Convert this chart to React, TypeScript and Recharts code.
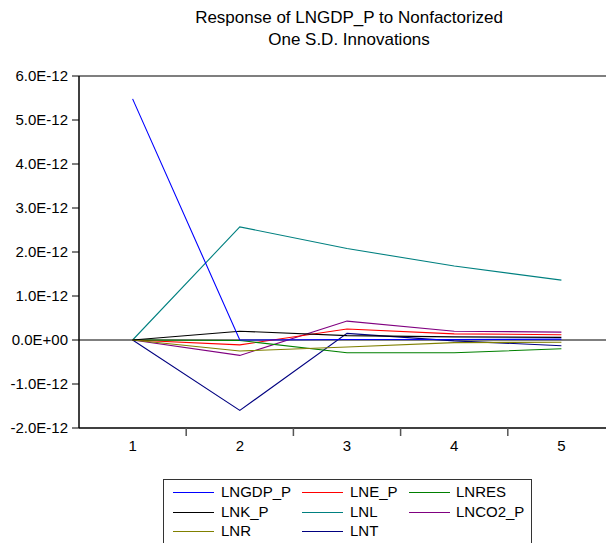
import React from 'react';
import { LineChart, Line, XAxis, YAxis, CartesianGrid, Legend } from 'recharts';

const PERIODS = [1, 2, 3, 4, 5];
const Y_TICKS = [-2e-12, -1e-12, 0, 1e-12, 2e-12, 3e-12, 4e-12, 5e-12, 6e-12];
const X_DIVIDERS = [1.5, 2.5, 3.5, 4.5];
const FRAME_LINES = [0, 6e-12];

const LNGDP_P = [5.48e-12, 0.0, 0.01e-12, 0.01e-12, 0.02e-12];
const LNE_P = [0, -0.11e-12, 0.25e-12, 0.14e-12, 0.12e-12];
const LNRES = [0, -0.01e-12, -0.29e-12, -0.29e-12, -0.2e-12];
const LNK_P = [0, 0.2e-12, 0.1e-12, 0.07e-12, 0.06e-12];
const LNL = [0, 2.57e-12, 2.08e-12, 1.68e-12, 1.36e-12];
const LNCO2_P = [0, -0.35e-12, 0.43e-12, 0.2e-12, 0.18e-12];
const LNR = [0, -0.25e-12, -0.16e-12, -0.06e-12, -0.05e-12];
const LNT = [0, -1.6e-12, 0.15e-12, -0.02e-12, -0.13e-12];

const SERIES = [
  { name: 'LNGDP_P', values: LNGDP_P, color: '#0000FF' },
  { name: 'LNE_P', values: LNE_P, color: '#FF0000' },
  { name: 'LNRES', values: LNRES, color: '#008000' },
  { name: 'LNK_P', values: LNK_P, color: '#000000' },
  { name: 'LNL', values: LNL, color: '#008080' },
  { name: 'LNCO2_P', values: LNCO2_P, color: '#800080' },
  { name: 'LNR', values: LNR, color: '#808000' },
  { name: 'LNT', values: LNT, color: '#000080' },
];

// draw order: later series on top (LNGDP_P last so it covers the zero line)
const DRAW_ORDER = ['LNL', 'LNT', 'LNCO2_P', 'LNE_P', 'LNRES', 'LNR', 'LNK_P', 'LNGDP_P'];

const data = PERIODS.map((p, i) => {
  const row: Record<string, number> = { period: p };
  SERIES.forEach((s) => {
    row[s.name] = s.values[i];
  });
  return row;
});

const FONT = '"Liberation Sans", Arial, sans-serif';

const fmtY = (v: number) => {
  if (Math.abs(v) < 1e-20) return '0.0E+00';
  return (v / 1e-12).toFixed(1) + 'E-12';
};

const COL_LINE = [9, 138, 245];
const COL_TEXT = [57, 186, 292];
const ROW_Y = [12, 32, 51];

const LegendContent = () => (
  <div
    style={{
      position: 'relative',
      width: 369,
      height: 70,
      border: '1px solid #333',
      boxSizing: 'border-box',
      background: '#fff',
      fontFamily: FONT,
      fontSize: 15,
      color: '#000',
    }}
  >
    {SERIES.map((s, i) => {
      const col = i % 3;
      const row = Math.floor(i / 3);
      return (
        <React.Fragment key={s.name}>
          <div
            style={{
              position: 'absolute',
              left: COL_LINE[col],
              top: ROW_Y[row],
              width: 41,
              height: 0,
              borderTop: `1.5px solid ${s.color}`,
            }}
          />
          <div
            style={{
              position: 'absolute',
              left: COL_TEXT[col],
              top: ROW_Y[row] - 10,
              lineHeight: '20px',
              whiteSpace: 'nowrap',
            }}
          >
            {s.name}
          </div>
        </React.Fragment>
      );
    })}
  </div>
);

export default function App() {
  const seriesByName: Record<string, (typeof SERIES)[number]> = {};
  SERIES.forEach((s) => (seriesByName[s.name] = s));
  return (
    <div
      style={{
        position: 'fixed',
        left: 0,
        top: 0,
        width: 606,
        height: 543,
        overflow: 'hidden',
        background: '#fff',
      }}
    >
      <div
        style={{
          position: 'absolute',
          left: 249,
          top: 7,
          width: 200,
          textAlign: 'center',
          fontFamily: FONT,
          fontSize: 17,
          lineHeight: '21.5px',
          color: '#000',
          whiteSpace: 'nowrap',
          display: 'flex',
          flexDirection: 'column',
          alignItems: 'center',
        }}
      >
        <div>Response of LNGDP_P to Nonfactorized</div>
        <div>One S.D. Innovations</div>
      </div>
      <div style={{ position: 'absolute', left: 0, top: 0 }}>
        <LineChart
          width={620}
          height={543}
          data={data}
          margin={{ top: 76, right: 5, left: 0, bottom: 0 }}
        >
          <CartesianGrid
            xAxisId="lab"
            vertical={false}
            horizontal={true}
            horizontalValues={FRAME_LINES}
            stroke="#000"
            strokeWidth={1.2}
          />
          <XAxis
            xAxisId="div"
            dataKey="period"
            type="number"
            domain={[0.5, 5.5]}
            ticks={X_DIVIDERS}
            height={1}
            tickSize={8}
            tickFormatter={() => ''}
            axisLine={{ stroke: '#000', strokeWidth: 1.5 }}
            tickLine={{ stroke: '#555', strokeWidth: 1.5 }}
          />
          <XAxis
            xAxisId="lab"
            dataKey="period"
            type="number"
            domain={[0.5, 5.5]}
            ticks={PERIODS}
            height={114}
            tickSize={7}
            tickMargin={4}
            axisLine={false}
            tickLine={false}
            tick={{ fill: '#000', fontSize: 15, fontFamily: FONT }}
          />
          <YAxis
            type="number"
            domain={[-2e-12, 6e-12]}
            ticks={Y_TICKS}
            width={79}
            tickSize={7}
            tickMargin={4}
            tickFormatter={fmtY}
            axisLine={{ stroke: '#000', strokeWidth: 1.5 }}
            tickLine={{ stroke: '#000' }}
            tick={{ fill: '#000', fontSize: 15, fontFamily: FONT }}
            interval={0}
          />
          {DRAW_ORDER.map((n) => {
            const s = seriesByName[n];
            return (
              <Line
                key={s.name}
                name={s.name}
                xAxisId="lab"
                type="linear"
                dataKey={s.name}
                stroke={s.color}
                strokeWidth={1.1}
                dot={false}
                activeDot={false}
                isAnimationActive={false}
              />
            );
          })}
          <Legend
            layout="vertical"
            align="center"
            verticalAlign="middle"
            content={LegendContent}
            wrapperStyle={{ position: 'absolute', left: 163, top: 479, width: 369, height: 70 }}
          />
        </LineChart>
      </div>
    </div>
  );
}
